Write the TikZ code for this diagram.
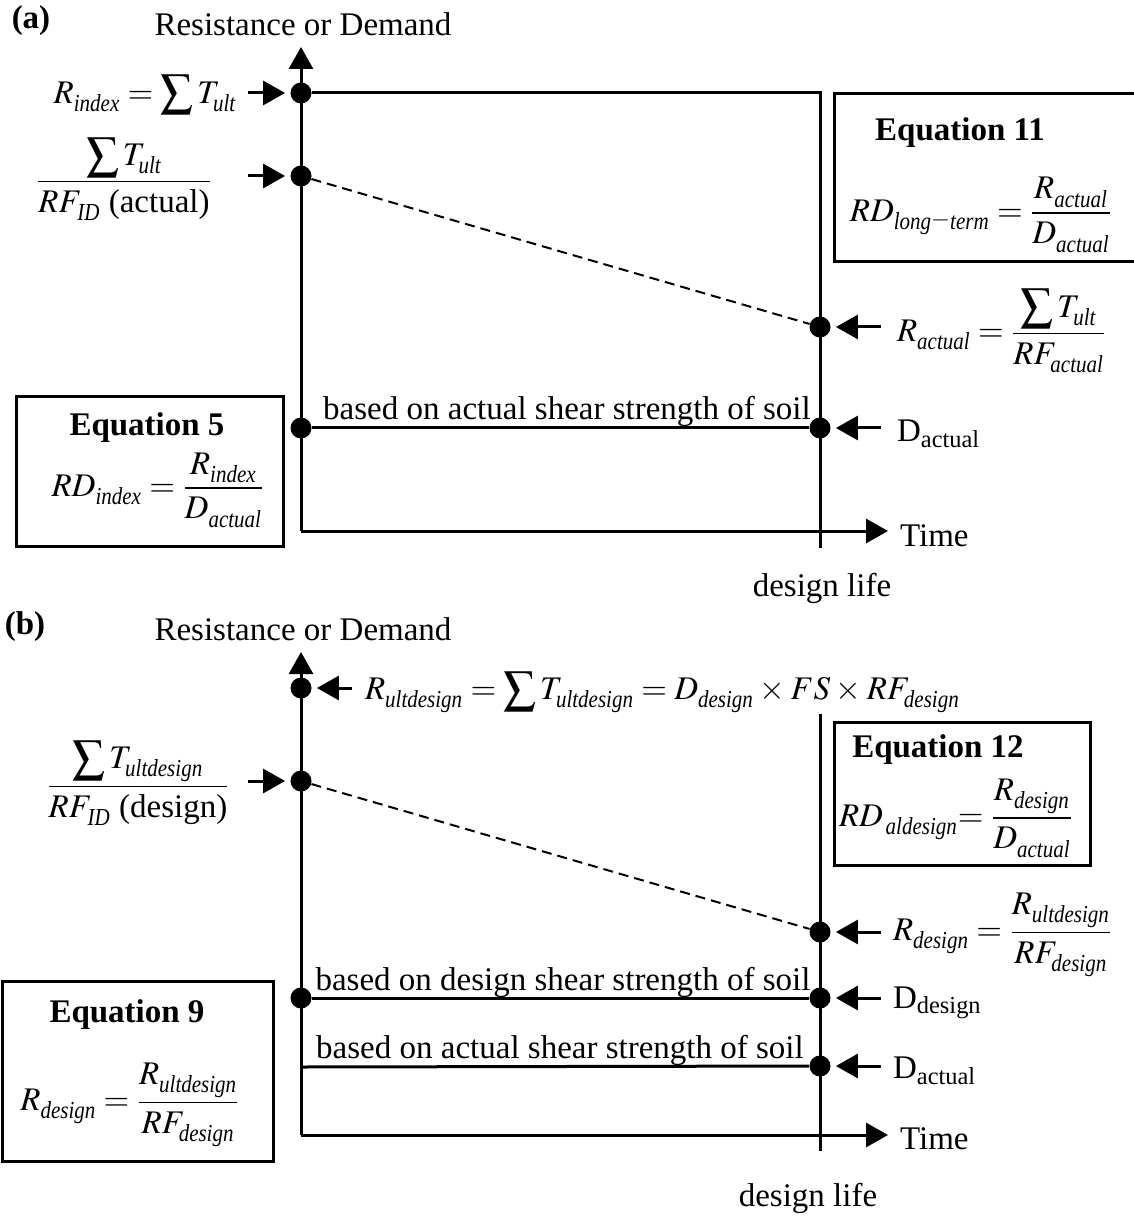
\documentclass[tikz,border=0pt]{standalone}
\usepackage{amsmath}
\usepackage{mathptmx}
\usepackage{fontspec}
\setmainfont{Liberation Serif}
\newfontfamily\subfam{Liberation Serif}[FakeStretch=0.86]
\usetikzlibrary{arrows.meta}

% italic word used as a subscript, a bit narrower and lower as in the source figure
\newcommand{\sbt}[1]{\text{\raisebox{-1.6pt}{\subfam\itshape #1}}}
% larger summation sign
\newcommand{\Sm}{\mathop{\vcenter{\hbox{\scalebox{1.4}{$\sum$}}}}\nolimits}
\thickmuskip=4mu plus 2mu
\medmuskip=3mu plus 1mu

\begin{document}
\begin{tikzpicture}[x=0.5pt, y=-0.5pt, >={Triangle[length=11pt,width=12pt]},
  font=\fontsize{16.5}{19.8}\selectfont,
  dot/.style={circle, fill, inner sep=0pt, minimum size=10.5pt},
  axis/.style={line width=1.5pt},
  trend/.style={line width=1pt, dash pattern=on 5pt off 3pt},
  pin/.style={line width=1.5pt, ->, shorten >=2.5pt},
  eqbox/.style={draw, line width=1.5pt, inner sep=0pt},
  title/.style={font=\fontsize{16.5}{19.8}\selectfont\bfseries}]

\useasboundingbox (0,0) rectangle (1133,1218);

% ---- (a) index and long-term
\node[title] (taga) at (31,21) {(a)};
\node (ylaba) at (303,24) {Resistance or Demand};

\coordinate (oa) at (301,531);
\coordinate (ya) at (301,47);
\coordinate (xa) at (888,531);
\coordinate (ca) at (820,93);
\coordinate (la) at (820,548);
\node[dot] (a1) at (301,93) {};
\node[dot] (a2) at (301,176) {};
\node[dot] (a3) at (820,327) {};
\node[dot] (a4) at (301,428) {};
\node[dot] (a5) at (820,428) {};

\draw[axis, ->] (oa) -- (ya);
\draw[axis, ->] (oa) -- (xa);
\draw[axis] (a1) -- (ca) -- (la);
\draw[axis] (a4) -- (a5);
\draw[trend] (a2) -- (a3);

\node[anchor=west] (timea) at (893,536) {Time};
\node (lifea) at (822,588) {design life};
\node[anchor=base] (soila) at (567,420) {based on actual shear strength of soil};

\node (rindex) at (145,95) {$R_{\sbt{index}} = \Sm T_{\sbt{ult}}$};
\node (rid) at (124,179) {$\dfrac{\Sm T_{\sbt{ult}}}{RF_{\kern1pt\sbt{ID}}\ \text{(actual)}}$};
\node[anchor=west] (ract) at (890,331) {$R_{\sbt{actual}} = \dfrac{\Sm T_{\sbt{ult}}}{RF_{\sbt{actual}}}$};
\node[anchor=west] (dact) at (890,434) {D\textsubscript{actual}};

\draw[pin] ([xshift=-21pt]a1.west) -- (a1.west);
\draw[pin] ([xshift=-21pt]a2.west) -- (a2.west);
\draw[pin] ([xshift=25pt]a3.east) -- (a3.east);
\draw[pin] ([xshift=25pt]a5.east) -- (a5.east);

\node[eqbox, minimum width=153pt, minimum height=84pt] (box11) at (987,178) {};
\node[title] (eq11) at (960,133) {Equation 11};
\node (rdlong) at (981,215) {$RD_{\sbt{long}{-}\sbt{term}} = \dfrac{R_{\sbt{actual}}}{D_{\sbt{actual}}}$};

\node[eqbox, minimum width=133.5pt, minimum height=74.5pt] (box5) at (149.5,471.5) {};
\node[title] (eq5) at (147,428) {Equation 5};
\node (rdindex) at (158,490) {$RD_{\sbt{index}} = \dfrac{R_{\sbt{index}}}{D_{\sbt{actual}}}$};

% ---- (b) design
\node[title] (tagb) at (25,627) {(b)};
\node (ylabb) at (303,629) {Resistance or Demand};

\coordinate (ob) at (301,1135);
\coordinate (yb) at (301,652);
\coordinate (xb) at (888,1135);
\coordinate (tb) at (820,714);
\coordinate (lb) at (820,1151);
\node[dot] (b1) at (301,688) {};
\node[dot] (b2) at (301,781) {};
\node[dot] (b3) at (820,932) {};
\node[dot] (b4) at (301,998) {};
\node[dot] (b5) at (820,998) {};
\coordinate (b6) at (301,1067);
\node[dot] (b7) at (820,1066) {};

\draw[axis, ->] (ob) -- (yb);
\draw[axis, ->] (ob) -- (xb);
\draw[axis] (tb) -- (lb);
\draw[axis] (b4) -- (b5);
\draw[axis] (b6) -- (b7);
\draw[trend] (b2) -- (b3);

\node[anchor=west] (timeb) at (893,1139) {Time};
\node (lifeb) at (808,1198) {design life};
\node[anchor=base] (soilb) at (563,990) {based on design shear strength of soil};
\node[anchor=base] (soilc) at (560,1058) {based on actual shear strength of soil};

\node[anchor=west] (rult) at (358,692) {$R_{\sbt{ultdesign}} = \Sm T_{\sbt{ultdesign}} = D_{\sbt{design}} \times FS \times RF_{\sbt{design}}$};
\node (ridd) at (138,783) {$\dfrac{\Sm T_{\sbt{ultdesign}}}{RF_{\kern1pt\sbt{ID}}\ \text{(design)}}$};
\node[anchor=west] (rdes) at (886,935) {$R_{\sbt{design}} = \dfrac{R_{\sbt{ultdesign}}}{RF_{\sbt{design}}}$};
\node[anchor=west] (ddes) at (886,1003) {D\textsubscript{design}};
\node[anchor=west] (dactb) at (886,1071) {D\textsubscript{actual}};

\draw[pin] ([xshift=20pt]b1.east) -- (b1.east);
\draw[pin] ([xshift=-21pt]b2.west) -- (b2.west);
\draw[pin] ([xshift=25pt]b3.east) -- (b3.east);
\draw[pin] ([xshift=25pt]b5.east) -- (b5.east);
\draw[pin] ([xshift=25pt]b7.east) -- (b7.east);

\node[eqbox, minimum width=128pt, minimum height=71.5pt] (box12) at (962,793.5) {};
\node[title] (eq12) at (938,750) {Equation 12};
\node (rdal) at (956,818) {$RD_{\,\sbt{aldesign}}\!\!= \dfrac{R_{\sbt{design}}}{D_{\sbt{actual}}}$};

\node[eqbox, minimum width=135.5pt, minimum height=90pt] (box9) at (137.5,1071) {};
\node[title] (eq9) at (127,1015) {Equation 9};
\node (rdesb) at (130,1105) {$R_{\sbt{design}} = \dfrac{R_{\sbt{ultdesign}}}{RF_{\sbt{design}}}$};

\end{tikzpicture}
\end{document}
